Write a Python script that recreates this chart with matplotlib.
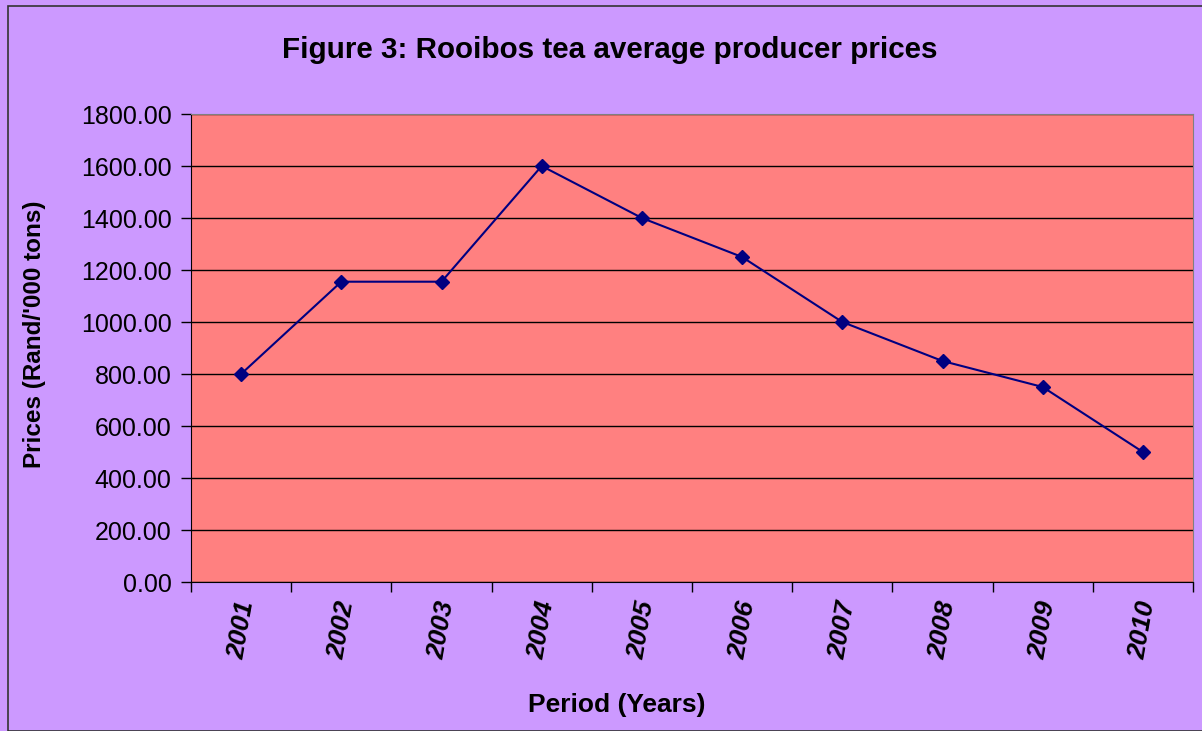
import matplotlib.pyplot as plt
from matplotlib.patches import Rectangle

years = ['2001', '2002', '2003', '2004', '2005', '2006', '2007', '2008', '2009', '2010']
prices = [800, 1155, 1155, 1600, 1400, 1250, 1000, 850, 750, 500]
y_ticks = [0, 200, 400, 600, 800, 1000, 1200, 1400, 1600, 1800]

plt.rcParams['font.family'] = ['Liberation Sans', 'DejaVu Sans']

fig = plt.figure(figsize=(12.02, 7.31), dpi=100)
fig.patch.set_facecolor('#CC99FF')
# thin dark frame round the chart area
fig.patches.append(Rectangle((8 / 1202, 0), 1.1, (731 - 6) / 731, transform=fig.transFigure,
                             fill=False, edgecolor='#333333', linewidth=1.2))

ax = fig.add_axes([191 / 1202, 1 - 582 / 731, 1002 / 1202, 468 / 731])
ax.set_facecolor('#FF8080')

x = list(range(len(years)))
ax.plot(x, prices, color='#000080', linewidth=1.5, marker='D', markersize=7, zorder=3)

ax.set_xlim(-0.5, len(years) - 0.5)
ax.set_ylim(0, 1800)
ax.set_yticks(y_ticks)
ax.set_yticklabels([f'{v:.2f}' for v in y_ticks], fontsize=18)
ax.yaxis.grid(True, color='black', linewidth=1)
ax.set_axisbelow(True)

# category ticks sit between the points, labels under the points
ax.set_xticks([i - 0.5 for i in range(len(years) + 1)])
ax.set_xticklabels([])
ax.set_xticks(x, minor=True)
ax.set_xticklabels(years, minor=True, rotation=80, fontsize=19, fontweight='bold', style='italic')
ax.tick_params(axis='x', which='minor', length=0, pad=12)
ax.tick_params(axis='both', which='major', length=7, width=1, direction='out')
ax.tick_params(axis='y', pad=7)

ax.spines['top'].set_color('#808080')
ax.spines['right'].set_color('#808080')

fig.text(35 / 1202, 1 - 334 / 731, "Prices (Rand/'000 tons)", rotation=90,
         ha='center', va='center', fontsize=17.5, fontweight='bold')
fig.text(617 / 1202, 1 - 705 / 731, 'Period (Years)',
         ha='center', va='center', fontsize=19, fontweight='bold')
fig.text(610 / 1202, 1 - 50 / 731, 'Figure 3: Rooibos tea average producer prices',
         ha='center', va='center', fontsize=21.3, fontweight='bold')

fig.savefig('out.png', dpi=100, facecolor=fig.get_facecolor())
